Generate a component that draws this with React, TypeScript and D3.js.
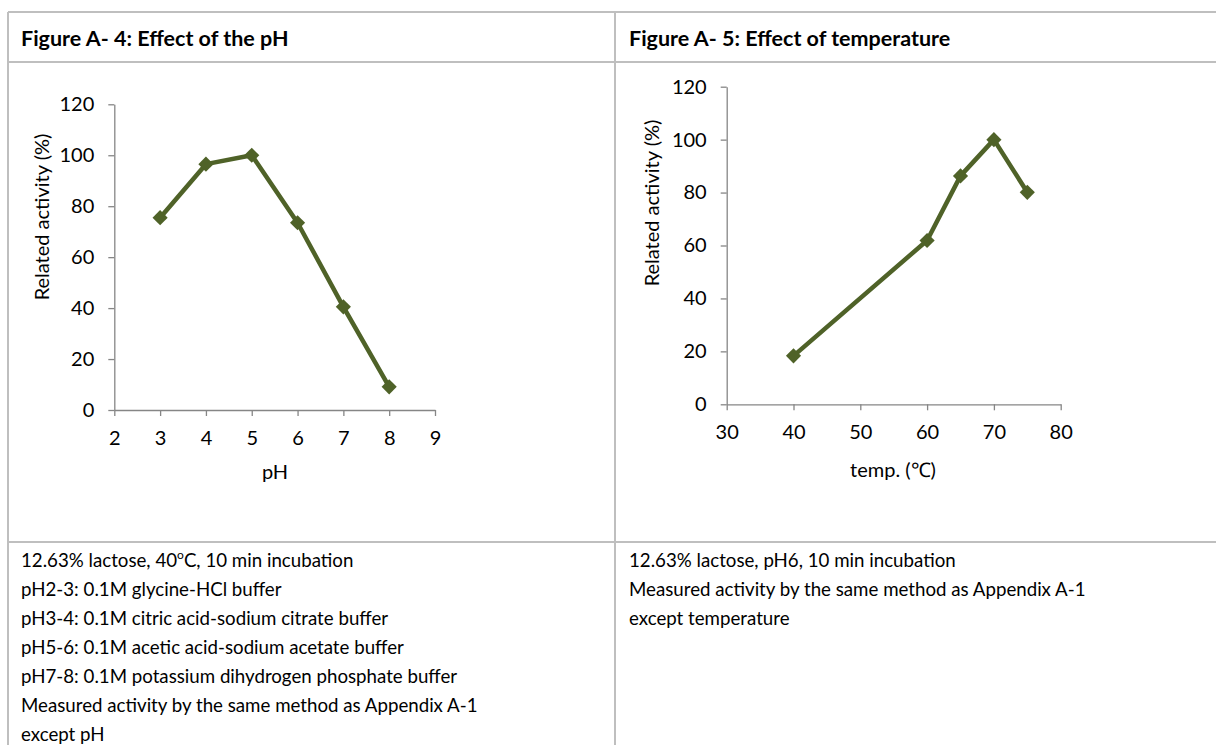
import React, { useRef, useEffect } from "react";
import * as d3 from "d3";

// pH chart data
const phValues = [3, 4, 5, 6, 7, 8];
const phActivity = [75.5, 96.5, 100, 73.5, 40.5, 9.1];
const phTicks = [2, 3, 4, 5, 6, 7, 8, 9];

// temperature chart data
const tempValues = [40, 60, 65, 70, 75];
const tempActivity = [18.3, 61.9, 86.3, 100, 80.1];
const tempTicks = [30, 40, 50, 60, 70, 80];

const activityTicks = [0, 20, 40, 60, 80, 100, 120];

const headers = ["Figure A- 4: Effect of the pH", "Figure A- 5: Effect of temperature"];
const notesLeft = [
  "12.63% lactose, 40|C, 10 min incubation",
  "pH2-3: 0.1M glycine-HCl buffer",
  "pH3-4: 0.1M citric acid-sodium citrate buffer",
  "pH5-6: 0.1M acetic acid-sodium acetate buffer",
  "pH7-8: 0.1M potassium dihydrogen phosphate buffer",
  "Measured activity by the same method as Appendix A-1",
  "except pH",
];
const notesRight = [
  "12.63% lactose, pH6, 10 min incubation",
  "Measured activity by the same method as Appendix A-1",
  "except temperature",
];

const FONT = "Lato, 'Open Sans', sans-serif";
const LINE = "#4f6228";
const AXIS = "#868686";
const BORDER = "#bfbfbf";

const drawChart = (g, opts) => {
  const { xs, ys, xTicks, x0, x1, y0, y1, xTitle, xTitleX, xTitleY, yTitleX, yTitleY } = opts;
  const x = d3.scaleLinear().domain(d3.extent(xTicks)).range([x0, x1]);
  const y = d3.scaleLinear().domain([0, 120]).range([y0, y1]);

  const ax = g.append("g").attr("transform", `translate(0,${y0})`)
    .call(d3.axisBottom(x).tickValues(xTicks).tickSize(6).tickSizeOuter(0).tickPadding(15).tickFormat(d3.format("d")));
  const ay = g.append("g").attr("transform", `translate(${x0},0)`)
    .call(d3.axisLeft(y).tickValues(activityTicks).tickSize(6).tickSizeOuter(0).tickPadding(14));
  [ax, ay].forEach(a => {
    a.selectAll("path, line").attr("stroke", AXIS).attr("stroke-width", 1.3);
    a.selectAll("text").attr("fill", "#000").style("font-family", FONT).style("font-size", "20px");
  });

  const pts = xs.map((v, i) => [x(v), y(ys[i])]);
  g.append("path")
    .attr("d", d3.line()(pts))
    .attr("fill", "none")
    .attr("stroke", LINE)
    .attr("stroke-width", 4.5)
    .attr("stroke-linejoin", "round");

  g.selectAll(".mk").data(pts).enter().append("path")
    .attr("d", d3.symbol(d3.symbolSquare, 115)())
    .attr("transform", d => `translate(${d[0]},${d[1]}) rotate(45)`)
    .attr("fill", LINE);

  g.append("text")
    .attr("x", xTitleX).attr("y", xTitleY)
    .attr("text-anchor", "middle").attr("dy", "0.35em")
    .style("font-family", FONT).style("font-size", "20px")
    .text(xTitle);
  g.append("text")
    .attr("transform", `translate(${yTitleX},${yTitleY}) rotate(-90)`)
    .attr("text-anchor", "middle").attr("dy", "0.35em")
    .style("font-family", FONT).style("font-size", "20px")
    .text("Related activity (%)");
};

const App = () => {
  const ref = useRef();

  useEffect(() => {
    const svg = d3.select(ref.current);
    svg.selectAll("*").remove();

    // table borders
    const b = svg.append("g").attr("stroke", BORDER).attr("stroke-width", 2);
    [12, 62, 542].forEach(yy => b.append("line").attr("x1", 8).attr("x2", 1216).attr("y1", yy).attr("y2", yy));
    [8, 615].forEach(xx => b.append("line").attr("x1", xx).attr("x2", xx).attr("y1", 12).attr("y2", 745));

    // headers
    svg.selectAll(".hdr").data(headers).enter().append("text")
      .attr("x", (d, i) => (i === 0 ? 21 : 629))
      .attr("y", 46)
      .style("font-family", FONT).style("font-size", "21.5px").style("font-weight", "bold")
      .text(d => d);

    drawChart(svg.append("g"), {
      xs: phValues, ys: phActivity, xTicks: phTicks,
      x0: 114.3, x1: 435, y0: 410, y1: 104.3,
      xTitle: "pH", xTitleX: 275, xTitleY: 472, yTitleX: 42, yTitleY: 217,
    });
    drawChart(svg.append("g"), {
      xs: tempValues, ys: tempActivity, xTicks: tempTicks,
      x0: 726.7, x1: 1060.7, y0: 404.3, y1: 86.7,
      xTitle: "temp. (\u2103)", xTitleX: 893, xTitleY: 470, yTitleX: 652, yTitleY: 203,
    });

    // notes
    const notes = (lines, x0) => {
      lines.forEach((ln, i) => {
        const t = svg.append("text")
          .attr("x", x0).attr("y", 566.5 + i * 29.05)
          .style("font-family", FONT).style("font-size", "18.7px");
        const parts = ln.split("|");
        t.append("tspan").text(parts[0]);
        if (parts.length > 1) {
          t.append("tspan").attr("dy", -8).style("font-size", "12px").text("o");
          t.append("tspan").attr("dy", 8).text(parts[1]);
        }
      });
    };
    notes(notesLeft, 21);
    notes(notesRight, 629);
  }, []);

  return (
    <svg ref={ref} width={1216} height={745}
      style={{ position: "absolute", left: 0, top: 0, background: "#fff" }} />
  );
};

export default App;
